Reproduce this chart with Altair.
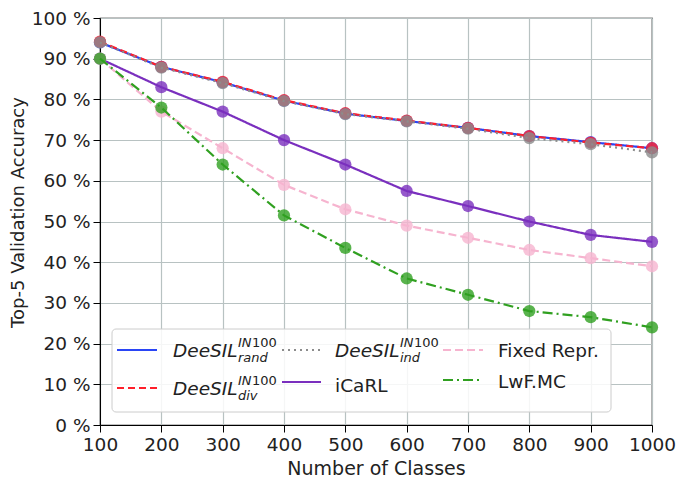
import altair as alt
import pandas as pd

classes = [100, 200, 300, 400, 500, 600, 700, 800, 900, 1000]
deesil_rand = [94.0, 88.0, 84.2, 79.7, 76.5, 74.7, 73.0, 71.0, 69.5, 68.0]
deesil_div = [94.2, 88.0, 84.3, 79.8, 76.6, 74.8, 73.0, 71.0, 69.4, 68.0]
deesil_ind = [94.0, 87.8, 84.0, 79.6, 76.4, 74.6, 72.8, 70.5, 69.0, 67.0]
icarl = [90.0, 83.0, 77.0, 70.0, 64.0, 57.5, 53.8, 50.0, 46.7, 45.0]
fixed_repr = [90.0, 77.0, 68.0, 59.0, 53.0, 49.0, 46.0, 43.0, 41.0, 39.0]
lwf_mc = [90.0, 78.0, 64.0, 51.5, 43.5, 36.0, 32.0, 28.0, 26.5, 24.0]
y_ticks = [0, 10, 20, 30, 40, 50, 60, 70, 80, 90, 100]

series_names = ["rand", "div", "ind", "iCaRL", "Fixed Repr.", "LwF.MC"]
series_values = [deesil_rand, deesil_div, deesil_ind, icarl, fixed_repr, lwf_mc]
colors = ["#2a45f5", "#ff1f2a", "#8c8c8c", "#7a2fbe", "#f6b4cf", "#30a020"]
dashes = [[1, 0], [7, 4], [2, 4], [1, 0], [8, 4], [10, 4, 2, 4]]

PL, PT, PR, PB = 92, 10, 25, 52
W, H = 552, 407
FONT = "DejaVu Sans"

x_scale = alt.Scale(domain=[100, 1000], nice=False)
y_scale = alt.Scale(domain=[0, 100], nice=False)
x_axis = alt.Axis(values=classes, format="d", title="Number of Classes", grid=True,
                  titleY=49, titleBaseline="alphabetic")
y_axis = alt.Axis(values=y_ticks, labelExpr="datum.value + ' %'",
                  title="Top-5 Validation Accuracy", grid=True,
                  titleX=-PL + 1, titleY=194, titleBaseline="top", titleFontSize=18)

layers = []
for i, (name, vals) in enumerate(zip(series_names, series_values)):
    df = pd.DataFrame({"classes": classes, "acc": vals, "series": name})
    base = alt.Chart(df)
    x_enc = alt.X("classes:Q", scale=x_scale, axis=x_axis)
    y_enc = alt.Y("acc:Q", scale=y_scale, axis=y_axis)
    pts = base.mark_circle(size=150, color=colors[i], opacity=0.8).encode(x=x_enc, y=y_enc)
    line = base.mark_line(color=colors[i], strokeWidth=2.2, strokeDash=dashes[i]).encode(x=x_enc, y=y_enc)
    layers += [line, pts]

one = pd.DataFrame({"a": [0]})
leg = alt.Chart(one)

def rule(x1, x2, y, i):
    return leg.mark_rule(color=colors[i], strokeWidth=2.2, strokeDash=dashes[i]).encode(
        x=alt.value(x1), x2=alt.value(x2), y=alt.value(y))

def txt(s, x, y, size=18.5, style="normal"):
    return leg.mark_text(text=s, font=FONT, fontSize=size, fontStyle=style, align="left",
                         baseline="alphabetic", color="#222222").encode(x=alt.value(x), y=alt.value(y))

dy = -11
legend_layers = [
    leg.mark_rect(fill="white", fillOpacity=0.85, stroke="#cccccc", strokeWidth=1, cornerRadius=4).encode(
        x=alt.value(12), x2=alt.value(511), y=alt.value(322 + dy), y2=alt.value(405 + dy)),
    rule(17, 57, 343 + dy, 0),
    rule(17, 57, 381 + dy, 1),
    rule(182, 221, 343 + dy, 2),
    rule(182, 221, 375 + dy, 3),
    rule(343, 383, 343 + dy, 4),
    rule(343, 383, 373 + dy, 5),
]

def deesil(x, y, sub):
    return [
        txt("DeeSIL", x, y, 18.5, "italic"),
        txt("IN", x + 65, y - 10, 13, "italic"),
        txt("100", x + 79, y - 10, 13),
        txt(sub, x + 65, y + 5, 13, "italic"),
    ]

legend_layers += deesil(73, 350 + dy, "rand")
legend_layers += deesil(73, 388 + dy, "div")
legend_layers += deesil(235, 350 + dy, "ind")
legend_layers += [
    txt("iCaRL", 235, 385 + dy),
    txt("Fixed Repr.", 398, 350 + dy),
    txt("LwF.MC", 398, 381 + dy),
]

chart = alt.layer(*layers, *legend_layers).properties(
    width=W, height=H,
    autosize=alt.AutoSizeParams(type="none"),
    padding={"left": PL, "top": PT, "right": PR, "bottom": PB},
).configure_view(
    stroke="black", strokeWidth=1.2
).configure_axis(
    labelFont=FONT, titleFont=FONT, labelFontSize=18.5, titleFontSize=19,
    titleFontWeight="normal", labelColor="#222222", titleColor="#222222",
    gridColor="#b8c2c2", gridWidth=1.2, domainColor="black", tickColor="black",
    tickSize=7, labelPadding=3,
).configure_axisX(
    labelFlush=False,
)

chart.save("out.html", embed_options={"renderer": "svg", "actions": False})
